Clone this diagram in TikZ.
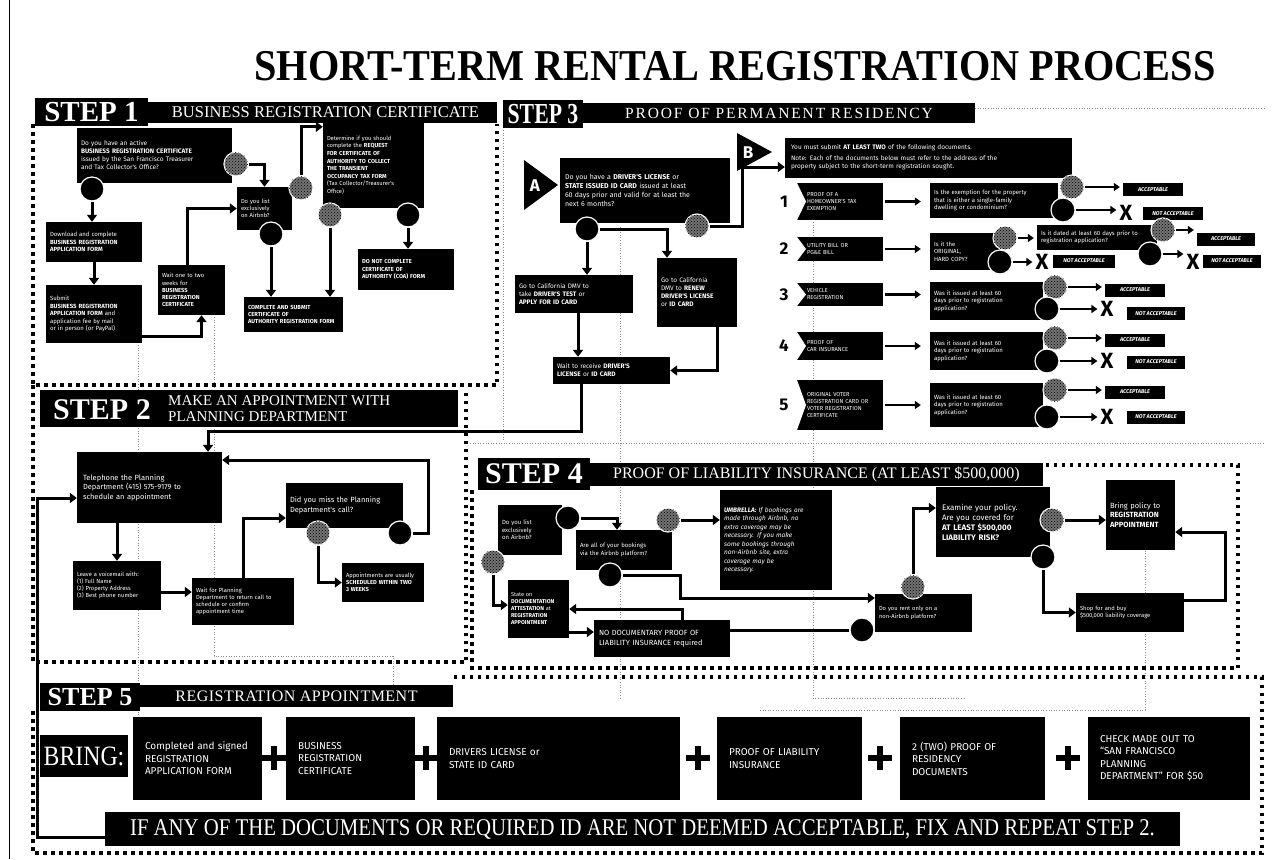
\documentclass[tikz,border=0pt]{standalone}
\usepackage{fontspec}
\setmainfont{Liberation Serif}
\newfontfamily\boxfnt{Fira Sans}
\usetikzlibrary{arrows.meta,patterns,calc}
\pgfdeclarelayer{bg}
\pgfsetlayers{bg,main}
\tikzset{
 box/.style={fill=black,text=white,inner xsep=4pt,inner ysep=2pt,align=left,font=\boxfnt\fontsize{6.5}{8}\selectfont},
 ycirc/.style={circle,minimum size=24pt,inner sep=0pt,fill=black!55,draw=white,line width=1.2pt,postaction={pattern=crosshatch dots,pattern color=black}},
 ncirc/.style={circle,minimum size=24pt,inner sep=0pt,fill=black,draw=white,line width=1.2pt},
 arr/.style={draw=black,line width=3pt,-{Triangle[length=7pt,width=10pt]}},
 arr2/.style={draw=black,line width=2.2pt,-{Triangle[length=6pt,width=8pt]}},
 hlab/.style={fill=black,text=white,inner sep=0pt,font=\bfseries\fontsize{29}{29}\selectfont},
 hbar/.style={fill=black,text=white,inner sep=0pt,font=\fontsize{15.5}{16}\selectfont},
 sdash/.style={line width=3.2pt,dash pattern=on 3.5pt off 4.5pt},
 faint/.style={draw=black!45,line width=0.7pt,dash pattern=on 1pt off 1.6pt},
 item/.style={fill=black,text=white,font=\boxfnt\fontsize{5.7}{7}\selectfont,align=left,minimum width=86pt,text width=66pt,inner xsep=0pt,inner ysep=1pt,path picture={\fill[white] (path picture bounding box.north west) -- (path picture bounding box.south west) -- ($(path picture bounding box.west)+(9pt,0pt)$) -- cycle;}},
 num/.style={font=\boxfnt\bfseries\fontsize{17}{17}\selectfont,inner sep=0pt},
 acc/.style={fill=black,text=white,inner sep=0pt,minimum height=13pt,font=\boxfnt\bfseries\itshape\fontsize{5.5}{6}\selectfont},
 xmark/.style={font=\boxfnt\bfseries\fontsize{22}{22}\selectfont,inner sep=0pt},
 bbox/.style={fill=black,text=white,align=left,minimum height=83pt,inner xsep=12pt,font=\boxfnt\fontsize{10}{12.5}\selectfont},
}
\begin{document}
\begin{tikzpicture}[x=1pt,y=-1pt]
\useasboundingbox (0,0) rectangle (1273,859);
\begin{pgfonlayer}{bg}
\fill[white] (0,0) rectangle (1273,859);
\end{pgfonlayer}
\draw[line width=0.8pt] (9,0) -- (9,859);

% ---------- title and headers ----------
\node[font=\bfseries\fontsize{44}{44}\selectfont] (title) at (735,66) {\scalebox{0.915}[1]{SHORT-TERM RENTAL REGISTRATION PROCESS}};

\node[hbar,minimum width=349pt,minimum height=21pt,font=\fontsize{16.5}{17}\selectfont] (s1bar) at (322.5,112.5) {\hspace*{6pt}BUSINESS REGISTRATION CERTIFICATE};
\node[hlab,minimum width=113pt,minimum height=28pt] (s1lab) at (91.5,112) {STEP 1};
\node[hbar,minimum width=392pt,minimum height=20pt] (s3bar) at (779,113) {\addfontfeature{LetterSpace=12}PROOF OF PERMANENT RESIDENCY};
\node[hlab,minimum width=80pt,minimum height=28pt] (s3lab) at (543,114) {\scalebox{0.75}[1]{STEP 3}};

\node[hlab,minimum width=418pt,minimum height=37pt] (s2h) at (249,408.5) {};
\node[text=white,inner sep=0pt,font=\bfseries\fontsize{30}{30}\selectfont] (s2t) at (102,410) {STEP 2};
\node[text=white,inner sep=0pt,align=left,anchor=west,font=\fontsize{15}{16}\selectfont] (s2s) at (168,409) {MAKE AN APPOINTMENT WITH\\PLANNING DEPARTMENT};

\node[hbar,minimum width=453pt,minimum height=23pt,font=\fontsize{16}{16}\selectfont] (s4bar) at (816.5,474.5) {PROOF OF LIABILITY INSURANCE (AT LEAST \$500,000)};
\node[hlab,minimum width=112pt,minimum height=32pt,font=\bfseries\fontsize{30}{30}\selectfont] (s4lab) at (534,474) {STEP 4};

\node[hbar,minimum width=313pt,minimum height=22pt,font=\fontsize{16}{16}\selectfont] (s5bar) at (296.5,696) {\addfontfeature{LetterSpace=3}REGISTRATION APPOINTMENT};
\node[hlab,minimum width=100pt,minimum height=28pt,font=\bfseries\fontsize{26}{26}\selectfont] (s5lab) at (90,697) {STEP 5};

% ---------- STEP 1 ----------
\node[box,minimum width=155pt,minimum height=55pt,text width=147pt] (s1q1) at (154.5,155.5) {Do you have an active\\\textbf{BUSINESS REGISTRATION CERTIFICATE}\\issued by the San Francisco Treasurer\\and Tax Collector's Office?};
\node[box,minimum width=96pt,minimum height=40pt,text width=88pt,font=\boxfnt\fontsize{6}{7.5}\selectfont] (s1dl) at (94,242) {Download and complete\\\textbf{BUSINESS REGISTRATION}\\\textbf{APPLICATION FORM}};
\node[box,minimum width=96pt,minimum height=58pt,text width=88pt,font=\boxfnt\fontsize{6}{7.5}\selectfont] (s1sub) at (94,314) {Submit\\\textbf{BUSINESS REGISTRATION}\\\textbf{APPLICATION FORM} and\\application fee by mail\\or in person (or PayPal)};
\node[box,minimum width=67pt,minimum height=50pt,text width=59pt,font=\boxfnt\fontsize{5.8}{7.2}\selectfont] (s1wt) at (191.5,290) {Wait one to two\\weeks for\\\textbf{BUSINESS}\\\textbf{REGISTRATION}\\\textbf{CERTIFICATE}};
\node[box,minimum width=55pt,minimum height=43pt,text width=47pt,font=\boxfnt\fontsize{5.8}{7.2}\selectfont] (s1air) at (264.5,208.5) {Do you list\\exclusively\\on Airbnb?};
\node[box,minimum width=101pt,minimum height=86pt,text width=93pt,font=\boxfnt\fontsize{5.8}{7.6}\selectfont] (s1det) at (373.5,165) {Determine if you should\\complete the \textbf{REQUEST}\\\textbf{FOR CERTIFICATE OF}\\\textbf{AUTHORITY TO COLLECT}\\\textbf{THE TRANSIENT}\\\textbf{OCCUPANCY TAX FORM}\\(Tax Collector/Treasurer's\\Office)};
\node[box,minimum width=99pt,minimum height=35pt,text width=91pt,font=\boxfnt\bfseries\fontsize{5.8}{7.2}\selectfont] (s1coa) at (293.5,314.5) {COMPLETE AND SUBMIT\\CERTIFICATE OF\\AUTHORITY REGISTRATION FORM};
\node[box,minimum width=96pt,minimum height=41pt,text width=88pt,font=\boxfnt\bfseries\fontsize{5.8}{7.2}\selectfont] (s1dnc) at (406,269.5) {DO NOT COMPLETE\\CERTIFICATE OF\\AUTHORITY (COA) FORM};

\node[ycirc] (c1y) at (236,164) {};
\node[ncirc] (c1n) at (92,189) {};
\node[ycirc] (c2y) at (301,188) {};
\node[ncirc] (c2n) at (271,234) {};
\node[ycirc] (c3y) at (330,215) {};
\node[ncirc] (c3n) at (408,215) {};

% ---------- STEP 3 ----------
\fill (524,160) -- (558,185) -- (524,210) -- cycle;
\node[text=white,font=\boxfnt\bfseries\fontsize{17}{17}\selectfont,inner sep=0pt] (tA) at (535,186) {A};
\fill (737,133) -- (772,152) -- (737,171) -- cycle;
\node[text=white,font=\boxfnt\bfseries\fontsize{17}{17}\selectfont,inner sep=0pt] (tB) at (748,153) {B};

\node[box,minimum width=170pt,minimum height=65pt,text width=160pt,font=\boxfnt\fontsize{7}{9}\selectfont] (s3q) at (645,190.5) {Do you have a \textbf{DRIVER'S LICENSE} or\\\textbf{STATE ISSUED ID CARD} issued at least\\60 days prior and valid for at least the\\next 6 months?};
\node[box,minimum width=118pt,minimum height=38pt,text width=110pt] (s3dmv) at (574,294) {Go to California DMV to\\take \textbf{DRIVER'S TEST} or\\\textbf{APPLY FOR ID CARD}};
\node[box,minimum width=80pt,minimum height=69pt,text width=72pt] (s3ren) at (697,292.5) {Go to California\\DMV to \textbf{RENEW}\\\textbf{DRIVER'S LICENSE}\\or \textbf{ID CARD}};
\node[box,minimum width=117pt,minimum height=27pt,text width=109pt] (s3wt) at (611.5,370.5) {Wait to receive \textbf{DRIVER'S}\\\textbf{LICENSE} or \textbf{ID CARD}};
\node[ncirc] (c4n) at (587,229) {};
\node[ycirc] (c4y) at (697,226) {};

\node[box,minimum width=287pt,minimum height=40pt,text width=275pt,inner xsep=6pt,font=\boxfnt\fontsize{6.5}{8}\selectfont] (s3b) at (928.5,157.5) {You must submit \textbf{AT LEAST TWO} of the following documents.\\[3pt]Note: Each of the documents below must refer to the address of the\\property subject to the short-term registration sought.};

\node[item,minimum height=37pt] (i1) at (840,201.5) {PROOF OF A\\HOMEOWNER'S TAX\\EXEMPTION};
\node[item,minimum height=24pt] (i2) at (840,249) {UTILITY BILL OR\\PG\&E BILL};
\node[item,minimum height=23pt] (i3) at (840,294.5) {VEHICLE\\REGISTRATION};
\node[item,minimum height=28pt] (i4) at (840,346) {PROOF OF\\CAR INSURANCE};
\node[item,minimum height=50pt] (i5) at (840,405) {ORIGINAL VOTER\\REGISTRATION CARD OR\\VOTER REGISTRATION\\CERTIFICATE};
\node[num] (n1) at (784,201.5) {1};
\node[num] (n2) at (784,249) {2};
\node[num] (n3) at (784,294.5) {3};
\node[num] (n4) at (784,346) {4};
\node[num] (n5) at (784,405) {5};

\node[box,minimum width=128pt,minimum height=35pt,text width=120pt,font=\boxfnt\fontsize{6}{7.5}\selectfont] (q1) at (994,200.5) {Is the exemption for the property\\that is either a single-family\\dwelling or condominium?};
\node[box,minimum width=70pt,minimum height=37pt,text width=62pt,font=\boxfnt\fontsize{6}{7.5}\selectfont] (q2) at (965,251.5) {Is it the\\ORIGINAL,\\HARD COPY?};
\node[box,minimum width=120pt,minimum height=25pt,text width=112pt,font=\boxfnt\fontsize{6}{7.5}\selectfont] (q2b) at (1097,237.5) {Is it dated at least 60 days prior to\\registration application?};
\node[box,minimum width=113pt,minimum height=38pt,text width=105pt,font=\boxfnt\fontsize{6}{7.5}\selectfont] (q3) at (986.5,301) {Was it issued at least 60\\days prior to registration\\application?};
\node[box,minimum width=113pt,minimum height=38pt,text width=105pt,font=\boxfnt\fontsize{6}{7.5}\selectfont] (q4) at (986.5,351) {Was it issued at least 60\\days prior to registration\\application?};
\node[box,minimum width=113pt,minimum height=44pt,text width=105pt,font=\boxfnt\fontsize{6}{7.5}\selectfont] (q5) at (986.5,405) {Was it issued at least 60\\days prior to registration\\application?};

\node[acc,minimum width=60pt] (acc1) at (1153,189.5) {ACCEPTABLE};
\node[acc,minimum width=60pt] (na1) at (1173,213.5) {NOT ACCEPTABLE};
\node[xmark] (x1) at (1126,213) {X};
\node[acc,minimum width=62pt] (na2) at (1084,261) {NOT ACCEPTABLE};
\node[xmark] (x2) at (1042,262) {X};
\node[acc,minimum width=58pt] (acc2) at (1226,239) {ACCEPTABLE};
\node[acc,minimum width=58pt] (na2b) at (1232,261) {NOT ACCEPTABLE};
\node[xmark] (x2b) at (1193,262) {X};
\node[acc,minimum width=60pt] (acc3) at (1135,290) {ACCEPTABLE};
\node[acc,minimum width=58pt] (na3) at (1156,313.5) {NOT ACCEPTABLE};
\node[xmark] (x3) at (1107,309) {X};
\node[acc,minimum width=60pt] (acc4) at (1135,340) {ACCEPTABLE};
\node[acc,minimum width=58pt] (na4) at (1156,362) {NOT ACCEPTABLE};
\node[xmark] (x4) at (1107,361) {X};
\node[acc,minimum width=60pt] (acc5) at (1135,392) {ACCEPTABLE};
\node[acc,minimum width=58pt] (na5) at (1156,417) {NOT ACCEPTABLE};
\node[xmark] (x5) at (1107,417) {X};

\node[ycirc] (q1y) at (1072,187) {};
\node[ncirc] (q1n) at (1063,210) {};
\node[ycirc] (q2y) at (1005,238) {};
\node[ncirc] (q2n) at (1000,262) {};
\node[ycirc] (q2by) at (1163,230) {};
\node[ncirc] (q2bn) at (1150,254) {};
\node[ycirc] (q3y) at (1055,287) {};
\node[ncirc] (q3n) at (1047,309) {};
\node[ycirc] (q4y) at (1055,338) {};
\node[ncirc] (q4n) at (1047,361) {};
\node[ycirc] (q5y) at (1055,390) {};
\node[ncirc] (q5n) at (1047,417) {};

% ---------- STEP 2 ----------
\node[box,minimum width=145pt,minimum height=71pt,text width=133pt,inner xsep=6pt,font=\boxfnt\fontsize{7.5}{9.5}\selectfont] (s2tel) at (149.5,487.5) {Telephone the Planning\\Department (415) 575-9179 to\\schedule an appointment};
\node[box,minimum width=88pt,minimum height=49pt,text width=80pt,font=\boxfnt\fontsize{5.8}{7.2}\selectfont] (s2vm) at (117,585.5) {Leave a voicemail with:\\(1) Full Name\\(2) Property Address\\(3) Best phone number};
\node[box,minimum width=102pt,minimum height=47pt,text width=94pt,font=\boxfnt\fontsize{5.8}{7.2}\selectfont] (s2wt) at (243,601.5) {Wait for Planning\\Department to return call to\\schedule or confirm\\appointment time};
\node[box,minimum width=117pt,minimum height=45pt,text width=109pt,font=\boxfnt\fontsize{7.5}{9.5}\selectfont] (s2miss) at (344.5,505.5) {Did you miss the Planning\\Department's call?};
\node[box,minimum width=82pt,minimum height=39pt,text width=74pt,font=\boxfnt\fontsize{5.8}{7.2}\selectfont] (s2res) at (383,582.5) {Appointments are usually\\\textbf{SCHEDULED WITHIN TWO}\\\textbf{3 WEEKS}};
\node[ycirc] (s2y) at (318,533) {};
\node[ncirc] (s2n) at (400,533) {};

% ---------- STEP 4 ----------
\node[box,minimum width=64pt,minimum height=50pt,text width=56pt,font=\boxfnt\fontsize{6}{7.5}\selectfont] (s4q1) at (530,530) {Do you list\\exclusively\\on Airbnb?};
\node[box,minimum width=96pt,minimum height=40pt,text width=88pt,font=\boxfnt\fontsize{6}{7.5}\selectfont] (s4q2) at (624,550) {Are all of your bookings\\via the Airbnb platform?};
\node[box,minimum width=112pt,minimum height=100pt,text width=104pt,font=\boxfnt\itshape\fontsize{6.5}{8.5}\selectfont] (s4umb) at (776,540) {\textbf{UMBRELLA:} If bookings are\\made through Airbnb, no\\extra coverage may be\\necessary. If you make\\some bookings through\\non-Airbnb site, extra\\coverage may be\\necessary.};
\node[box,minimum width=61pt,minimum height=58pt,text width=55pt,inner xsep=3pt,font=\boxfnt\fontsize{5.6}{7}\selectfont] (s4st) at (538.5,609) {State on\\\textbf{DOCUMENTATION}\\\textbf{ATTESTATION} at\\\textbf{REGISTRATION}\\\textbf{APPOINTMENT}};
\node[box,minimum width=136pt,minimum height=37pt,text width=126pt,inner xsep=5pt,font=\boxfnt\fontsize{7.5}{9.5}\selectfont] (s4nd) at (662,638.5) {NO DOCUMENTARY PROOF OF\\LIABILITY INSURANCE required};
\node[box,minimum width=97pt,minimum height=38pt,text width=89pt,font=\boxfnt\fontsize{5.8}{7.2}\selectfont] (s4rent) at (923.5,613) {Do you rent only on a\\non-Airbnb platform?};
\node[box,minimum width=114pt,minimum height=70pt,text width=102pt,inner xsep=6pt,font=\boxfnt\fontsize{8}{10}\selectfont] (s4ex) at (993,522) {Examine your policy.\\Are you covered for\\\textbf{AT LEAST \$500,000}\\\textbf{LIABILITY RISK?}};
\node[box,minimum width=69pt,minimum height=70pt,text width=61pt,font=\boxfnt\fontsize{7.5}{9.5}\selectfont] (s4br) at (1140.5,515) {Bring policy to\\\textbf{REGISTRATION}\\\textbf{APPOINTMENT}};
\node[box,minimum width=108pt,minimum height=39pt,text width=100pt,font=\boxfnt\fontsize{5.8}{7.2}\selectfont] (s4shop) at (1130,612.5) {Shop for and buy\\\$500,000 liability coverage};
\node[ncirc] (s4q1n) at (568,518) {};
\node[ycirc] (s4q1y) at (493,562) {};
\node[ycirc] (s4q2y) at (668,520) {};
\node[ncirc] (s4q2n) at (610,575) {};
\node[ycirc] (s4ry) at (913,587) {};
\node[ncirc] (s4rn) at (862,630) {};
\node[ycirc] (s4exy) at (1052,520) {};
\node[ncirc] (s4exn) at (1043,557) {};

% ---------- STEP 5 ----------
\node[fill=black,text=white,minimum width=88pt,minimum height=42pt,inner sep=0pt,font=\fontsize{28}{28}\selectfont] (bring) at (84,756) {\scalebox{0.85}[1]{BRING:}};
\node[bbox,minimum width=129pt,text width=105pt] (b1) at (197.5,758.5) {Completed and signed\\REGISTRATION\\APPLICATION FORM};
\node[bbox,minimum width=129pt,text width=105pt] (b2) at (350.5,758.5) {BUSINESS\\REGISTRATION\\CERTIFICATE};
\node[bbox,minimum width=243pt,text width=219pt] (b3) at (558.5,758.5) {DRIVERS LICENSE or\\STATE ID CARD};
\node[bbox,minimum width=145pt,text width=121pt] (b4) at (789.5,758.5) {PROOF OF LIABILITY\\INSURANCE};
\node[bbox,minimum width=145pt,text width=121pt] (b5) at (972.5,758.5) {2 (TWO) PROOF OF\\RESIDENCY\\DOCUMENTS};
\node[bbox,minimum width=162pt,text width=138pt] (b6) at (1169,758.5) {CHECK MADE OUT TO\\“SAN FRANCISCO\\PLANNING\\DEPARTMENT” FOR \$50};
\foreach \x in {274,426,698,880,1068} \draw[line width=6.5pt] (\x-12,758) -- (\x+12,758) (\x,746) -- (\x,770);
\node[fill=black,text=white,minimum width=1075pt,minimum height=34pt,inner sep=0pt,font=\fontsize{24}{24}\selectfont] (ban) at (642.5,829) {\scalebox{0.865}[1]{IF ANY OF THE DOCUMENTS OR REQUIRED ID ARE NOT DEEMED ACCEPTABLE, FIX AND REPEAT STEP 2.}};

% ---------- connectors and borders (behind) ----------
\begin{pgfonlayer}{bg}
% faint guide lines
\draw[faint] (975,108) -- (1265,108);
\draw[faint] (470,443) -- (1265,443);
\draw[faint] (503,130) -- (503,440);
\draw[faint] (138,345) -- (138,720);
\draw[faint] (214,317) -- (214,656) -- (393,656) -- (393,690);
\draw[faint] (620,227) -- (620,700);
\draw[faint] (813,222) -- (813,698) -- (965,698);
\draw[faint] (760,710) -- (1145,710) -- (1145,550);
% dashed step borders
\draw[sdash] (33,124) -- (33,385) -- (497,385) -- (497,124);
\draw[sdash] (33,385) -- (33,662) -- (466,662) -- (466,392);
\draw[sdash] (472,490) -- (472,668) -- (1238,668) -- (1238,465) -- (1043,465);
\draw[sdash] (33,711) -- (33,853) -- (1262,853) -- (1262,677) -- (453,677);

% step 1
\draw[arr] (c1n.south) -- (c1n.south |- s1dl.north);
\draw[arr] (s1dl.south) -- (s1sub.north);
\coordinate (p1) at ([yshift=-22pt]s1sub.east);
\coordinate (p2) at ([xshift=10pt]s1wt.south);
\draw[arr] (p1) -| (p2);
\coordinate (p3) at ([xshift=-4pt]s1wt.north);
\draw[arr] (p3) |- (s1air.west);
\draw[arr] (c1y.east) -| (s1air.north);
\coordinate (p4) at ([yshift=-5pt]s1det.north west);
\draw[arr] (c2y.north) |- (p4);
\draw[arr] (c2n.south) -- (c2n.south |- s1coa.north);
\draw[arr] (c3y.south) -- (c3y.south |- s1coa.north);
\draw[arr] (c3n.south) -- (c3n.south |- s1dnc.north);

% step 3
\draw[arr] (c4n.south) -- (c4n.south |- s3dmv.north);
\coordinate (p5) at ([xshift=-30pt]s3ren.north);
\draw[arr] (c4n.east) -| (p5);
\coordinate (p6) at ([xshift=4pt]s3dmv.south);
\draw[arr] (p6) -- (p6 |- s3wt.north);
\coordinate (p7) at ([xshift=20pt]s3ren.south);
\draw[arr] (p7) |- (s3wt.east);
\coordinate (p8) at ([xshift=-30.5pt]s3wt.south);
\coordinate (j1) at (208,431);
\coordinate (p9) at ([xshift=58.5pt]s2tel.north);
\draw[arr] (p8) |- (j1) -- (p9);
\coordinate (j2) at (742,167);
\coordinate (p10) at ([yshift=-9.5pt]s3b.west);
\draw[arr] (c4y.east) -| (j2) -- (p10);
\foreach \i/\q in {1/q1,2/q2,3/q3,4/q4,5/q5}
  \draw[arr2,shorten <=2pt,shorten >=9pt] (i\i.east) -- (i\i.east -| \q.west);
\foreach \c/\t in {q1y/acc1,q2y/q2b,q2by/acc2,q3y/acc3,q4y/acc4,q5y/acc5,q1n/x1,q2n/x2,q2bn/x2b,q3n/x3,q4n/x4,q5n/x5}
  \draw[arr2,shorten >=3pt] (\c.east) -- (\c.east -| \t.west);

% step 2
\coordinate (p11) at ([xshift=-32.5pt]s2tel.south);
\draw[arr] (p11) -- (p11 |- s2vm.north);
\coordinate (p12) at ([yshift=-6.5pt]s2vm.east);
\draw[arr] (p12) -- (p12 -| s2wt.west);
\coordinate (p13) at ([yshift=-12.5pt]s2miss.west);
\draw[arr] (s2wt.north) |- (p13);
\coordinate (j3) at (428,460);
\coordinate (p14) at ([yshift=27.5pt]s2tel.east);
\draw[arr] (s2n.east) -| (j3) -- (p14);
\draw[arr] (s2y.south) |- (s2res.west);
\coordinate (p15) at ([yshift=-8pt]ban.west);
\coordinate (j4) at (37,498);
\coordinate (p16) at ([yshift=-10.5pt]s2tel.west);
\draw[arr] (p15) -| (j4) -- (p16);

% step 4
\coordinate (p17) at ([xshift=-7pt]s4q2.north);
\draw[arr] (s4q1n.east) -| (p17);
\coordinate (p18) at ([yshift=4pt]s4st.west);
\draw[arr] (s4q1y.south) |- (p18);
\draw[arr] (s4q2y.east) -- (s4q2y.east -| s4umb.west);
\coordinate (j5) at (680,598);
\draw[arr] (s4q2n.east) -| (j5) -- (j5 -| s4rent.west);
\coordinate (j6) at (682,609);
\draw[arr] (s4rn.west) -| (j6) -- (j6 -| s4st.east);
\coordinate (p19) at ([yshift=14pt]s4ex.west);
\draw[arr] (s4ry.north) |- (p19);
\draw[arr] (s4exy.east) -- (s4exy.east -| s4br.west);
\draw[arr] (s4exn.south) |- (s4shop.west);
\coordinate (p20) at ([yshift=12pt]s4shop.east);
\coordinate (j7) at (1225,532);
\draw[arr] (p20) -| (j7) -- (j7 -| s4br.east);
\coordinate (p21) at ([yshift=-23pt]s4st.east);
\draw[arr] (p21) -- (p21 -| s4nd.west);
\end{pgfonlayer}
\end{tikzpicture}
\end{document}
